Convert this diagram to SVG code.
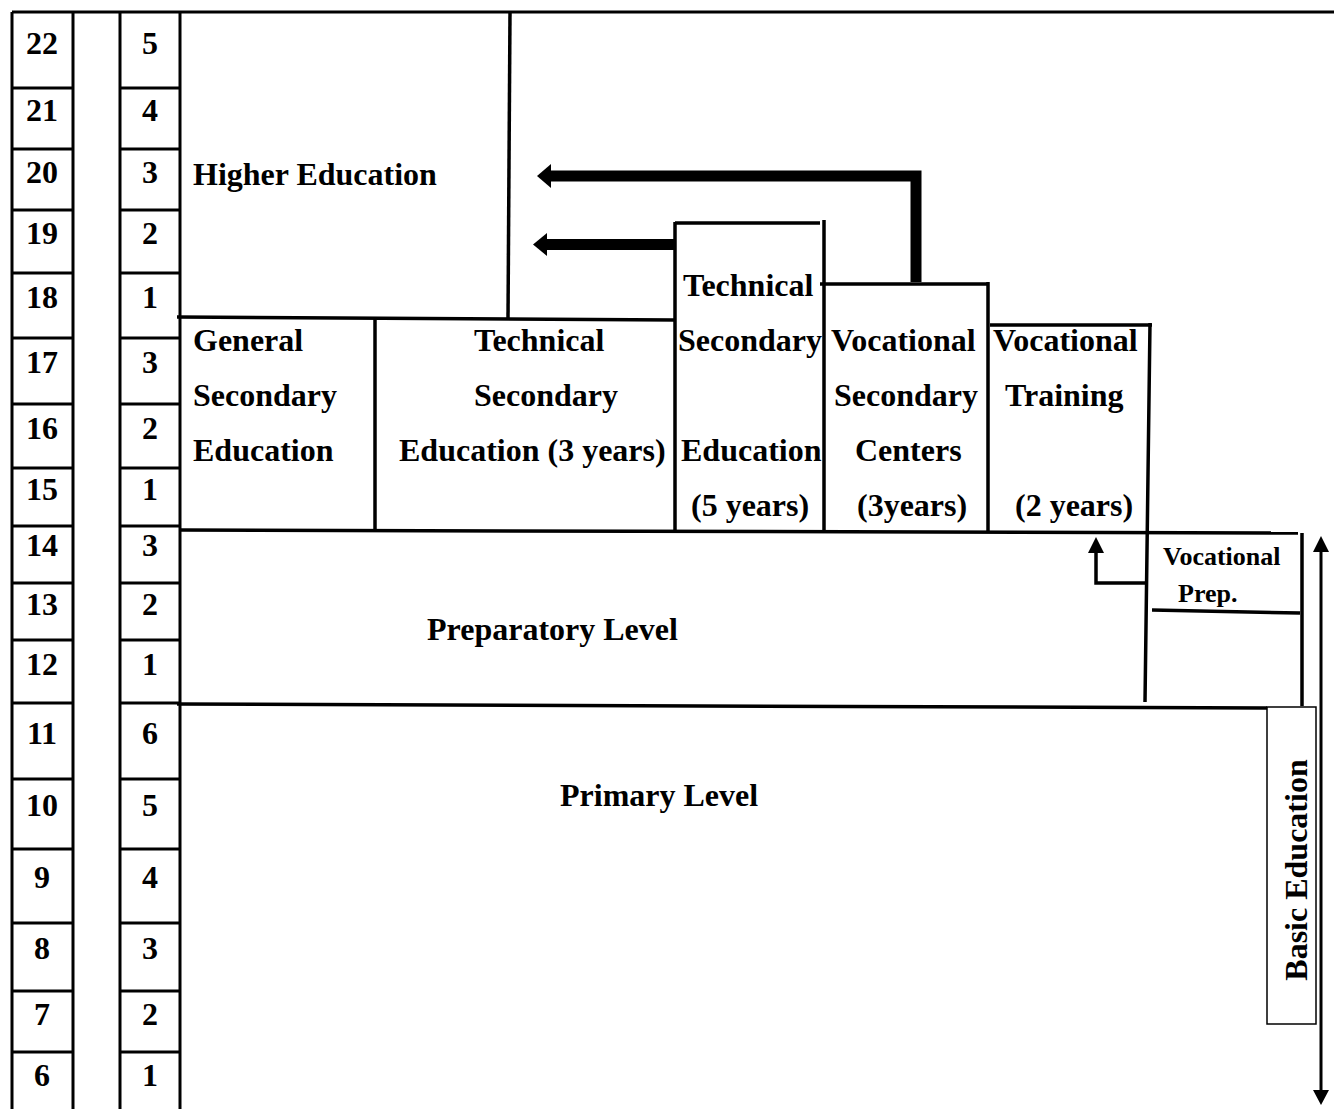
<svg xmlns="http://www.w3.org/2000/svg" width="1334" height="1109" viewBox="0 0 1334 1109">
<style>
  text { font-family: "Liberation Serif", "Times New Roman", serif; font-weight: bold; font-size: 32px; fill: #000; }
  .num { text-anchor: middle; }
  .small { font-size: 26px; }
  .tl { stroke: #000; stroke-width: 3; fill: none; }
  .ln { stroke: #000; stroke-width: 3.5; fill: none; }
  .thick { stroke: #000; stroke-width: 11; fill: none; }
</style>
<rect width="1334" height="1109" fill="#fff"/>

<g id="age-table">
  <path class="tl" d="M12,12 V1109 M73,12 V1109 M120,12 V1109 M180,12 V1109"/>
  <path class="tl" d="M12,12 H1334"/>
  <path class="tl" d="M12,88 H73 M120,88 H180 M12,149 H73 M120,149 H180 M12,210 H73 M120,210 H180 M12,273 H73 M120,273 H180 M12,338 H73 M120,338 H180 M12,404 H73 M120,404 H180 M12,468 H73 M120,468 H180 M12,526 H73 M120,526 H180 M12,583 H73 M120,583 H180 M12,640 H73 M120,640 H180 M12,703 H73 M120,703 H180 M12,779 H73 M120,779 H180 M12,849 H73 M120,849 H180 M12,923 H73 M120,923 H180 M12,991 H73 M120,991 H180 M12,1052 H73 M120,1052 H180"/>
  <text class="num" x="42" y="54">22</text><text class="num" x="150" y="54">5</text>
  <text class="num" x="42" y="121">21</text><text class="num" x="150" y="121">4</text>
  <text class="num" x="42" y="183">20</text><text class="num" x="150" y="183">3</text>
  <text class="num" x="42" y="244">19</text><text class="num" x="150" y="244">2</text>
  <text class="num" x="42" y="308">18</text><text class="num" x="150" y="308">1</text>
  <text class="num" x="42" y="373">17</text><text class="num" x="150" y="373">3</text>
  <text class="num" x="42" y="439">16</text><text class="num" x="150" y="439">2</text>
  <text class="num" x="42" y="500">15</text><text class="num" x="150" y="500">1</text>
  <text class="num" x="42" y="556">14</text><text class="num" x="150" y="556">3</text>
  <text class="num" x="42" y="615">13</text><text class="num" x="150" y="615">2</text>
  <text class="num" x="42" y="675">12</text><text class="num" x="150" y="675">1</text>
  <text class="num" x="42" y="744">11</text><text class="num" x="150" y="744">6</text>
  <text class="num" x="42" y="816">10</text><text class="num" x="150" y="816">5</text>
  <text class="num" x="42" y="888">9</text><text class="num" x="150" y="888">4</text>
  <text class="num" x="42" y="959">8</text><text class="num" x="150" y="959">3</text>
  <text class="num" x="42" y="1025">7</text><text class="num" x="150" y="1025">2</text>
  <text class="num" x="42" y="1086">6</text><text class="num" x="150" y="1086">1</text>
</g>

<g id="higher-education">
  <path class="ln" d="M510,12 L508,318"/>
  <text x="193" y="185">Higher Education</text>
</g>

<g id="general-secondary">
  <path class="ln" d="M177,317 L675,320"/>
  <path class="ln" d="M375,318 V530"/>
  <text x="193" y="351">General</text>
  <text x="193" y="406">Secondary</text>
  <text x="193" y="461">Education</text>
</g>

<g id="technical-secondary-3">
  <text x="474" y="351">Technical</text>
  <text x="474" y="406">Secondary</text>
  <text x="399" y="461">Education (3 years)</text>
</g>

<g id="technical-secondary-5">
  <path class="ln" d="M675,222 V531 M675,223 H820 M824,220 V531"/>
  <text x="683" y="296">Technical</text>
  <text x="678" y="351">Secondary</text>
  <text x="681" y="461">Education</text>
  <text x="691" y="516">(5 years)</text>
</g>

<g id="vocational-secondary">
  <path class="ln" d="M820,284 H988 M988,282 V531"/>
  <text x="831" y="351">Vocational</text>
  <text x="834" y="406">Secondary</text>
  <text x="855" y="461">Centers</text>
  <text x="857" y="516">(3years)</text>
</g>

<g id="vocational-training">
  <path class="ln" d="M990,325 H1152 M1150,323 L1145,702"/>
  <text x="993" y="351">Vocational</text>
  <text x="1005" y="406">Training</text>
  <text x="1015" y="516">(2 years)</text>
</g>

<g id="vocational-prep">
  <path class="ln" d="M1152,610 L1300,613 M1302,533 V706"/>
  <text class="small" x="1163" y="565">Vocational</text>
  <text class="small" x="1178" y="602">Prep.</text>
</g>

<g id="preparatory-level">
  <path class="ln" d="M180,530 L1298,533"/>
  <text x="427" y="640">Preparatory Level</text>
</g>

<g id="primary-level">
  <path class="ln" d="M177,704 L1267,708"/>
  <text x="560" y="806">Primary Level</text>
</g>

<g id="basic-education">
  <rect x="1267" y="707" width="49" height="317" fill="#fff" stroke="#000" stroke-width="1.5"/>
  <text transform="translate(1307,870) rotate(-90)" text-anchor="middle">Basic Education</text>
</g>

<g id="connectors">
  <path class="thick" d="M916,282 V176 H550"/>
  <polygon points="537,176 551,164 551,188" fill="#000"/>
  <path class="thick" d="M675,244.5 H546"/>
  <polygon points="533,244.5 547,233 547,256" fill="#000"/>
  <path class="ln" d="M1147,583 H1096 V552"/>
  <polygon points="1096,537 1088,553 1104,553" fill="#000"/>
  <path stroke="#000" stroke-width="3" d="M1321,550 V1092"/>
  <polygon points="1321,536 1313,552 1329,552" fill="#000"/>
  <polygon points="1321,1105 1313,1090 1329,1090" fill="#000"/>
</g>
</svg>
